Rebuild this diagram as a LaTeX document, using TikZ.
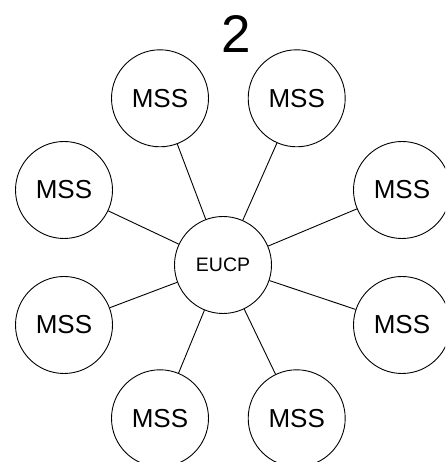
\documentclass[tikz,border=0pt]{standalone}
\usepackage{fontspec}
\setmainfont{Liberation Sans}
\usetikzlibrary{positioning}
\tikzset{
x=1pt, y=1pt, % one unit is one point
mss/.style={circle, draw, minimum size=97pt, inner sep=0pt, font=\fontsize{26}{30}\selectfont}, % the outer stations
hub/.style={circle, draw, minimum size=97pt, inner sep=0pt, font=\fontsize{19.5}{23}\selectfont}, % the centre node
link/.style={draw}, % plain connector, no tips
}
\begin{document}
\begin{tikzpicture}[line width=0.9pt]
    \useasboundingbox (0,0) rectangle (445,462);
    \clip (0,0) rectangle (445,462);

    \node[font=\fontsize{53}{60}\selectfont] (title) at (236.7,428) {2};

    \node[hub] (eucp) at (223,197) {EUCP};

    \node[mss] (m1) at (160,363.7) {MSS};
    \node[mss] (m2) at (296.7,363.7) {MSS};
    \node[mss] (m3) at (64,272) {MSS};
    \node[mss] (m4) at (402,272) {MSS};
    \node[mss] (m5) at (64,137) {MSS};
    \node[mss] (m6) at (402,137) {MSS};
    \node[mss] (m7) at (160,43.7) {MSS};
    \node[mss] (m8) at (296.7,43.7) {MSS};

    \foreach \m in {m1,m2,m3,m4,m5,m6,m7,m8}
        \draw[link] (eucp) -- (\m);
\end{tikzpicture}
\end{document}
